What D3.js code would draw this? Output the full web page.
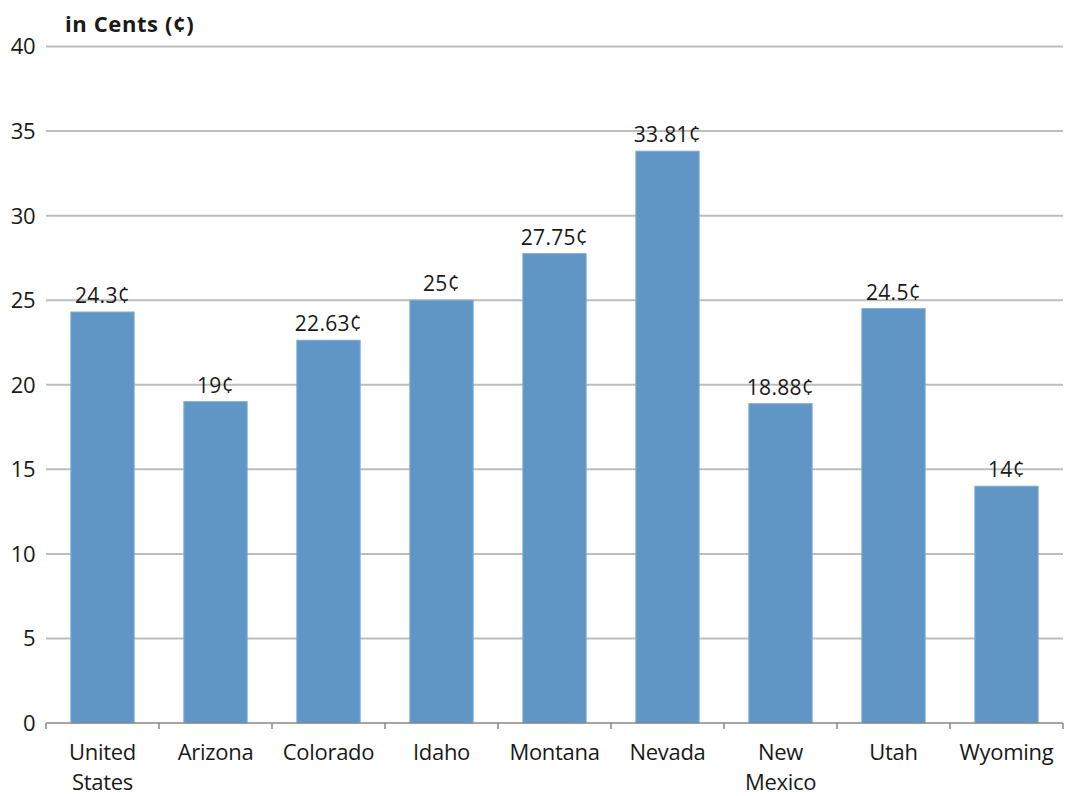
<!DOCTYPE html>
<html lang="en">
<head>
<meta charset="UTF-8">
<script src="https://d3js.org/d3.v7.min.js"></script>
<style>
  body { margin: 0; background: #fff; }
  #plot { width: 1065px; height: 796px; }
  text { font-family: "Open Sans", "Lato", sans-serif; fill: #1a1a1a; }
</style>
</head>
<body>
<div id="plot"></div>
<script>
// chart data
var states = ["United States", "Arizona", "Colorado", "Idaho", "Montana", "Nevada", "New Mexico", "Utah", "Wyoming"];
var cents = [24.3, 19, 22.63, 25, 27.75, 33.81, 18.88, 24.5, 14];
var valueLabels = ["24.3¢", "19¢", "22.63¢", "25¢", "27.75¢", "33.81¢", "18.88¢", "24.5¢", "14¢"];
var yTicks = [0, 5, 10, 15, 20, 25, 30, 35, 40];

function drawChart() {
  var width = 1065, height = 796;
  var left = 46, right = 1063, top = 46.5, bottom = 723;

  var svg = d3.select("#plot").append("svg")
      .attr("width", width)
      .attr("height", height);

  var x = d3.scaleBand().domain(states).range([left, right]).paddingInner(0.44).paddingOuter(0.22);
  var y = d3.scaleLinear().domain([0, 40]).range([bottom, top]);

  // gridlines
  svg.append("g")
    .selectAll("line")
    .data(yTicks.filter(d => d > 0))
    .join("line")
      .attr("x1", left).attr("x2", right)
      .attr("y1", d => y(d)).attr("y2", d => y(d))
      .attr("stroke", "#bdbdbd")
      .attr("stroke-width", 2);

  // y labels
  svg.append("g")
      .attr("font-size", 22)
      .attr("letter-spacing", -0.5)
      .attr("text-anchor", "end")
    .selectAll("text")
    .data(yTicks)
    .join("text")
      .attr("x", 35)
      .attr("y", d => y(d))
      .attr("dy", "0.36em")
      .text(d => d);

  // bars
  svg.append("g")
    .selectAll("rect")
    .data(cents)
    .join("rect")
      .attr("x", (d, i) => x(states[i]))
      .attr("y", d => y(d))
      .attr("width", x.bandwidth())
      .attr("height", d => y(0) - y(d))
      .attr("fill", "#5f96c6")
      .attr("stroke", "#7eaad2")
      .attr("stroke-width", 1);

  // x axis line + tick marks at category borders
  svg.append("line")
      .attr("x1", left).attr("x2", right)
      .attr("y1", bottom).attr("y2", bottom)
      .attr("stroke", "#888").attr("stroke-width", 1.5);
  var step = x.step();
  svg.append("g")
    .selectAll("line")
    .data(d3.range(states.length + 1))
    .join("line")
      .attr("x1", i => left + i * step).attr("x2", i => left + i * step)
      .attr("y1", bottom).attr("y2", bottom + 6)
      .attr("stroke", "#888").attr("stroke-width", 1.5);

  // category labels (wrapped)
  svg.append("g")
      .attr("font-size", 22)
      .attr("letter-spacing", -0.3)
      .attr("text-anchor", "middle")
    .selectAll("text")
    .data(states)
    .join("text")
      .attr("transform", d => `translate(${x(d) + x.bandwidth() / 2},760)`)
    .selectAll("tspan")
    .data(d => d === "United States" || d === "New Mexico" ? d.split(" ") : [d])
    .join("tspan")
      .attr("x", 0)
      .attr("y", (_, i) => i * 30)
      .text(d => d);

  // value labels
  svg.append("g")
      .attr("font-size", 21)
      .attr("letter-spacing", 0.3)
      .attr("text-anchor", "middle")
    .selectAll("text")
    .data(cents)
    .join("text")
      .attr("x", (d, i) => x(states[i]) + x.bandwidth() / 2)
      .attr("y", d => y(d) - 9)
      .text((d, i) => valueLabels[i]);

  // unit title
  svg.append("text")
      .attr("x", 65)
      .attr("y", 32)
      .attr("font-size", 22)
      .attr("font-weight", "bold")
      .attr("letter-spacing", 0.6)
      .text("in Cents (¢)");
}

window.onload = drawChart;
</script>
</body>
</html>
